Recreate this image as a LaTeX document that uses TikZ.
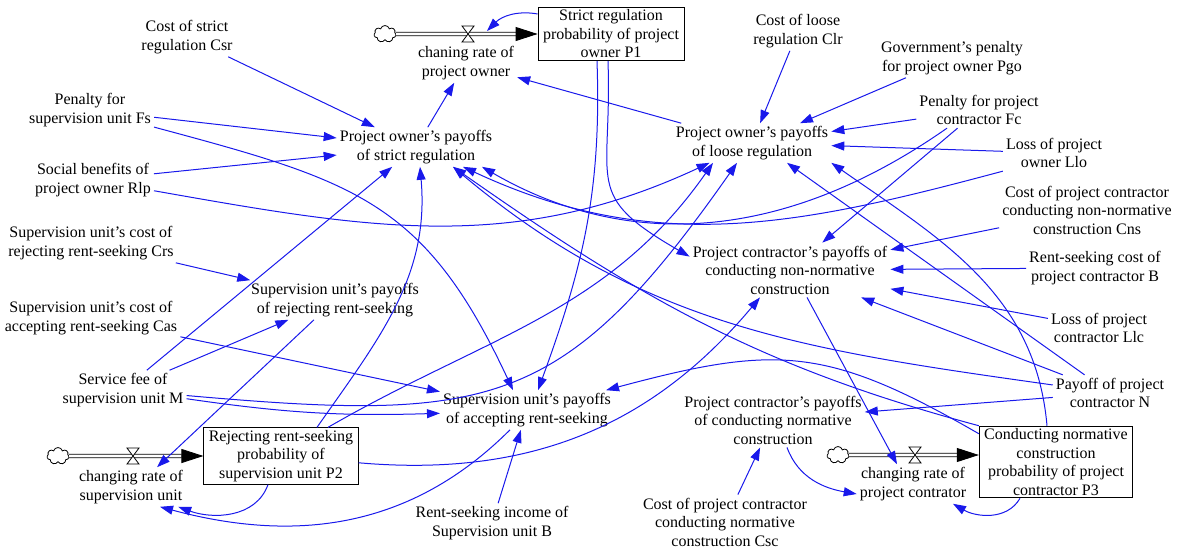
\documentclass[tikz,border=0pt]{standalone}
\usepackage{fontspec}
\setmainfont{Liberation Serif}
\usetikzlibrary{arrows.meta,shapes.symbols}
\definecolor{infblue}{RGB}{25,25,235}
\begin{document}
\begin{tikzpicture}[x=1pt,y=1pt,
  var/.style={align=center},
  level/.style={draw, align=center, inner xsep=5pt, inner ysep=2.5pt, line width=0.8pt},
  infl/.style={infblue, line width=1pt, -{Triangle[length=13pt,width=9pt]}},
  pipe/.style={double, double distance=2.8pt, line width=0.8pt, -{Triangle[length=22pt,width=14pt]}},
  valve/.style={fill=white, line width=0.8pt},
  source/.style={cloud, draw, cloud puffs=7, aspect=1.3, minimum width=22pt, minimum height=17pt, inner sep=0pt, line width=0.8pt}]
\tikzstyle{every node}+=[inner sep=3pt, font=\fontsize{16}{18.5}\selectfont]
\useasboundingbox (0,0) rectangle (1181,-552);
\node [var] (csr) at (187,-37) {Cost of strict\\regulation Csr};
\node [var] (fs) at (90,-110) {Penalty for\\supervision unit Fs};
\node [var] (rlp) at (93,-180) {Social benefits of\\project owner Rlp};
\node [var] (crs) at (91,-243) {Supervision unit's cost of\\rejecting rent-seeking Crs};
\node [var] (cas) at (91,-318) {Supervision unit's cost of\\accepting rent-seeking Cas};
\node [var] (fee) at (123,-390) {Service fee of\\supervision unit M};
\node [var] (rej) at (335,-300) {Supervision unit's payoffs\\of rejecting rent-seeking};
\node [var] (strict) at (416,-147) {Project owner's payoffs\\of strict regulation};
\node [var] (rate1) at (466,-63) {chaning rate of\\project owner};
\node [level] (p1) at (611,-34) {Strict regulation\\probability of project\\owner P1};
\node [var] (clr) at (798,-31) {Cost of loose\\regulation Clr};
\node [var] (pgo) at (952,-58) {Government's penalty\\for project owner Pgo};
\node [var] (loose) at (752,-143) {Project owner's payoffs\\of loose regulation};
\node [var] (fc) at (979,-110) {Penalty for project\\contractor Fc};
\node [var] (llo) at (1054,-153) {Loss of project\\owner Llo};
\node [var] (cns) at (1087,-210) {Cost of project contractor\\conducting non-normative\\construction Cns};
\node [var] (nonnorm) at (790,-270) {Project contractor's payoffs of\\conducting non-normative\\construction};
\node [var] (bc) at (1095,-268) {Rent-seeking cost of\\project contractor B};
\node [var] (llc) at (1099,-328) {Loss of project\\contractor Llc};
\node [var] (payn) at (1110,-393) {Payoff of project\\contractor N};
\node [var] (acc) at (527,-410) {Supervision unit's payoffs\\of accepting rent-seeking};
\node [var] (norm) at (773,-420) {Project contractor's payoffs\\of conducting normative\\construction};
\node [level] (p2) at (281,-456) {Rejecting rent-seeking\\probability of\\supervision unit P2};
\node [var] (rate2) at (131,-487) {changing rate of\\supervision unit};
\node [var] (bsup) at (492,-523) {Rent-seeking income of\\Supervision unit B};
\node [var] (csc) at (725,-522) {Cost of project contractor\\conducting normative\\construction Csc};
\node [var] (rate3) at (913,-484) {changing rate of\\project contrator};
\node [level] (p3) at (1056,-462) {Conducting normative\\construction\\probability of project\\contractor P3};
\node [source] (cl1) at (385,-34) {};
\node [source] (cl2) at (58,-456) {};
\node [source] (cl3) at (838,-455) {};
\coordinate (v1) at (468,-34);
\coordinate (v2) at (133,-456);
\coordinate (v3) at (915,-455);
\draw [pipe] (cl1) -- (p1.west);
\draw [pipe] (cl2) -- (p2.west);
\draw [pipe] (cl3) -- ([yshift=7pt]p3.west);
\draw [valve] (v1) ++(-6,8) -- ++(12,0) -- ++(-12,-16) -- ++(12,0) -- cycle;
\draw [valve] (v2) ++(-6,8) -- ++(12,0) -- ++(-12,-16) -- ++(12,0) -- cycle;
\draw [valve] (v3) ++(-6,8) -- ++(12,0) -- ++(-12,-16) -- ++(12,0) -- cycle;
\draw [infl] (csr) -- (strict);
\draw [infl] (fs) -- (strict);
\draw [infl] (rlp) -- (strict);
\draw [infl] (fee) -- (strict);
\draw [infl] ([xshift=36pt]p2.north) to[out=55,in=-85] ([xshift=4pt]strict.south);
\draw [infl] (p3.north west) to[out=165,in=-35] ([xshift=37pt]strict.south);
\draw [infl] (payn) to[out=172,in=-40] ([xshift=37pt]strict.south);
\draw [infl] (llo.south west) to[out=195,in=-25] ([xshift=47pt]strict.south);
\draw [infl] ([xshift=-32pt]fc.south) to[out=215,in=-30] ([xshift=66pt]strict.south);
\draw [infl] (clr) -- (loose);
\draw [infl] (pgo) -- ([xshift=48pt]loose.north);
\draw [infl] (fc) -- (loose);
\draw [infl] (llo) -- (loose);
\draw [infl] (rlp) to[out=-10,in=205] (loose);
\draw [infl] ([xshift=47pt]p2.north) to[out=30,in=235] ([xshift=-39pt]loose.south);
\draw [infl] (fee) to[out=-5,in=235,looseness=1.3] ([xshift=-15pt]loose.south);
\draw [infl] (payn) -- ([xshift=35pt]loose.south);
\draw [infl] ([xshift=-9pt]p3.north) to[out=95,in=-35] (loose.south east);
\draw [infl] (strict) -- (rate1);
\draw [infl] (loose) -- (rate1);
\draw [infl] ([yshift=-7pt]p1.north west) to[out=170,in=45] ([shift={(19pt,3pt)}]v1);
\draw [infl] (fs) to[out=-15,in=115,looseness=1.2] ([xshift=-14pt]acc.north);
\draw [infl] ([xshift=-14pt]p1.south) to[out=-88,in=70] ([xshift=11pt]acc.north);
\draw [infl] (cas) -- (acc);
\draw [infl] (fee) to[bend right=5] (acc);
\draw [infl] (bsup) -- (acc);
\draw [infl] ([yshift=-8pt]p3.north west) to[out=150,in=15,looseness=1.2] ([xshift=-8pt]acc.north east);
\draw [infl] ([xshift=-3pt]p1.south) to[out=-88,in=150,looseness=1.5] ([yshift=-14pt]nonnorm.north west);
\draw [infl] (fc) -- (nonnorm);
\draw [infl] (cns) -- (nonnorm);
\draw [infl] (bc) -- (nonnorm);
\draw [infl] (llc) -- (nonnorm);
\draw [infl] (payn) -- (nonnorm);
\draw [infl] (p2) to[out=-5,in=230] ([xshift=-30pt]nonnorm.south);
\draw [infl] (payn) -- ([yshift=8pt]norm.east);
\draw [infl] (csc) -- (norm);
\draw [infl] ([xshift=17pt]nonnorm.south) -- ([xshift=-16pt]rate3.north);
\draw [infl] ([xshift=14pt]norm.south) to[out=-70,in=170] ([yshift=-10pt]rate3.west);
\draw [infl] ([xshift=-36pt]p3.south) to[out=-120,in=-30] ([xshift=40pt]rate3.south);
\draw [infl] (crs) -- (rej);
\draw [infl] (fee) -- (rej);
\draw [infl] (rej) -- ([xshift=26pt]rate2.north);
\draw [infl] ([xshift=-13pt]p2.south) to[out=-110,in=-20] ([xshift=-8pt]rate2.south east);
\draw [infl] ([xshift=-17pt]acc.south) to[out=-135,in=-15] ([xshift=29pt]rate2.south);
\end{tikzpicture}
\end{document}
